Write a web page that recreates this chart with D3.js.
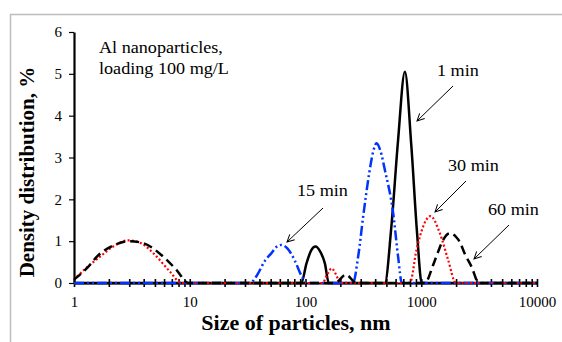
<!DOCTYPE html>
<html>
<head>
<meta charset="utf-8">
<script src="https://cdn.jsdelivr.net/npm/d3@7"></script>
<style>
  body { margin: 0; background: #fff; }
  svg { display: block; font-family: "Liberation Serif", "Times New Roman", serif; }
</style>
</head>
<body>
<div id="chart"></div>
<script>
// size of particles (nm) and density distribution (%) for each sampling time
var min1Size = [1, 92, 102, 112, 122, 134, 147, 159, 485, 550, 630, 722, 820, 920, 1010, 10000];
var min1Val  = [0, 0, 0.47, 0.78, 0.87, 0.75, 0.47, 0, 0, 1.3, 3.4, 5.05, 3.3, 1.2, 0, 0];

var min15Size = [1, 33, 38, 44.6, 51, 56, 62, 70, 81, 92, 102, 257, 285, 315, 355, 385, 411, 445, 485, 572, 631, 680, 10000];
var min15Val  = [0, 0, 0.18, 0.53, 0.72, 0.86, 0.91, 0.82, 0.53, 0.18, 0, 0, 0.63, 1.59, 2.62, 3.15, 3.34, 3.15, 2.7, 1.67, 0.63, 0, 0];

var min30Size = [1, 1.3, 1.68, 2.2, 2.94, 3.8, 5.18, 6.75, 8.5, 140, 155, 168, 182, 200, 797, 910, 1038, 1200, 1448, 1708, 1990, 10000];
var min30Val  = [0.08, 0.38, 0.63, 0.88, 1.02, 0.95, 0.63, 0.27, 0, 0, 0.22, 0.35, 0.22, 0, 0, 0.79, 1.35, 1.6, 1.19, 0.55, 0, 0];

var min60Size = [1, 1.3, 1.6, 2.2, 3.0, 4.0, 5.9, 7.7, 9.7, 180, 223, 275, 1074, 1267, 1400, 1497, 1766, 2000, 2153, 2377, 2718, 3150, 10000];
var min60Val  = [0.08, 0.36, 0.65, 0.9, 1.0, 0.95, 0.63, 0.31, 0, 0, 0.2, 0, 0, 0.43, 0.75, 0.95, 1.19, 1.1, 0.98, 0.7, 0.39, 0, 0];

var xTickLabels = [1, 10, 100, 1000, 10000];
var yTickLabels = [0, 1, 2, 3, 4, 5, 6];

var width = 562;
var height = 342;
var plotLeft = 74, plotRight = 537, plotTop = 32, plotBottom = 283;
var stretch = 1.1;

var xScale = d3.scaleLog()
    .domain([1, 10000])
    .range([plotLeft, plotRight]);

var yScale = d3.scaleLinear()
    .domain([0, 6])
    .range([plotBottom, plotTop]);

var svg = d3.select('#chart')
    .append('svg')
    .attr('width', width)
    .attr('height', height);

svg.append('defs')
    .append('marker')
    .attr('id', 'arrow')
    .attr('viewBox', '0 0 10 10')
    .attr('refX', 9)
    .attr('refY', 5)
    .attr('markerWidth', 9)
    .attr('markerHeight', 9)
    .attr('markerUnits', 'userSpaceOnUse')
    .attr('orient', 'auto')
    .append('path')
    .attr('d', 'M1,1 L9,5 L1,9')
    .attr('fill', 'none')
    .attr('stroke', '#000')
    .attr('stroke-width', 1.1);

// outer chart border
svg.append('rect')
    .attr('x', 10.5)
    .attr('y', 14.5)
    .attr('width', 600)
    .attr('height', 400)
    .attr('fill', 'none')
    .attr('stroke', '#bdbdbd')
    .attr('stroke-width', 1.5);

// minor + major ticks of the log axis
var xTicks = [];
xTickLabels.forEach(function (d) {
    for (var k = 1; k < 10; k++) {
        if (d * k <= 10000) xTicks.push(d * k);
    }
});

var xAxis = d3.axisBottom(xScale)
    .tickValues(xTicks)
    .tickSize(4)
    .tickSizeOuter(0)
    .tickFormat(function (d) {
        return xTickLabels.indexOf(d) >= 0 ? d : '';
    });

var yAxis = d3.axisLeft(yScale)
    .tickValues(yTickLabels)
    .tickFormat(d3.format('d'))
    .tickSize(5)
    .tickSizeOuter(0)
    .tickPadding(7);

var gy = svg.append('g')
    .attr('transform', 'translate(' + plotLeft + ',0)')
    .call(yAxis);
gy.select('.domain').attr('stroke-width', 2.2);
gy.selectAll('.tick line').attr('stroke-width', 1.2);
gy.selectAll('.tick text')
    .style('font-family', '"Liberation Serif", "Times New Roman", serif')
    .style('font-size', '15px');

var line = d3.line()
    .x(function (d) { return xScale(d[0]); })
    .y(function (d) { return yScale(d[1]); })
    .curve(d3.curveMonotoneX);

var series = [
    {size: min1Size, val: min1Val, color: '#000', dash: null, w: 2.5},
    {size: min15Size, val: min15Val, color: '#0033ff', dash: '10,3,2,3,2,3', w: 2.5},
    {size: min30Size, val: min30Val, color: '#ff0000', dash: '2,2.2', w: 2.2},
    {size: min60Size, val: min60Val, color: '#000', dash: '9,5', w: 2.5}
];

var gx = svg.append('g')
    .attr('transform', 'translate(0,' + plotBottom + ')')
    .call(xAxis);
gx.select('.domain').attr('stroke-width', 2.2);
gx.selectAll('.tick line').attr('y1', -4).attr('y2', 4).attr('stroke-width', 1.6);
gx.selectAll('.tick text')
    .attr('y', 24)
    .attr('dy', null)
    .style('font-family', '"Liberation Serif", "Times New Roman", serif')
    .style('font-size', '15px');

series.forEach(function (s) {
    var pts = s.size.map(function (d, i) { return [d, s.val[i]]; });
    svg.append('path')
        .datum(pts)
        .attr('fill', 'none')
        .attr('stroke', s.color)
        .attr('stroke-width', s.w)
        .attr('stroke-dasharray', s.dash)
        .attr('d', line);
});

// annotations
var addText = function (x, y, str, size, bold, anchor) {
    svg.append('text')
        .attr('transform', 'translate(' + x + ',' + y + ') scale(' + stretch + ',1)')
        .attr('text-anchor', anchor || 'start')
        .style('font-size', size + 'px')
        .style('font-weight', bold ? 'bold' : 'normal')
        .text(str);
};

addText(99, 53, 'Al nanoparticles,', 16.5);
addText(99, 74, 'loading 100 mg/L', 16.5);
addText(437, 76, '1 min', 16.5);
addText(297, 196, '15 min', 16.5);
addText(448, 171, '30 min', 16.5);
addText(488, 215, '60 min', 16.5);

var arrows = [
    [453, 86, 417, 121],
    [323, 208, 287, 242],
    [466, 181, 435, 212],
    [509, 225, 474, 259]
];
arrows.forEach(function (a) {
    svg.append('line')
        .attr('x1', a[0]).attr('y1', a[1])
        .attr('x2', a[2]).attr('y2', a[3])
        .attr('stroke', '#000')
        .attr('stroke-width', 1)
        .attr('marker-end', 'url(#arrow)');
});

addText(296, 330, 'Size of particles, nm', 20, true, 'middle');

svg.append('text')
    .attr('transform', 'translate(34,172) rotate(-90)')
    .attr('text-anchor', 'middle')
    .style('font-size', '21px')
    .style('font-weight', 'bold')
    .text('Density distribution, %');
</script>
</body>
</html>
